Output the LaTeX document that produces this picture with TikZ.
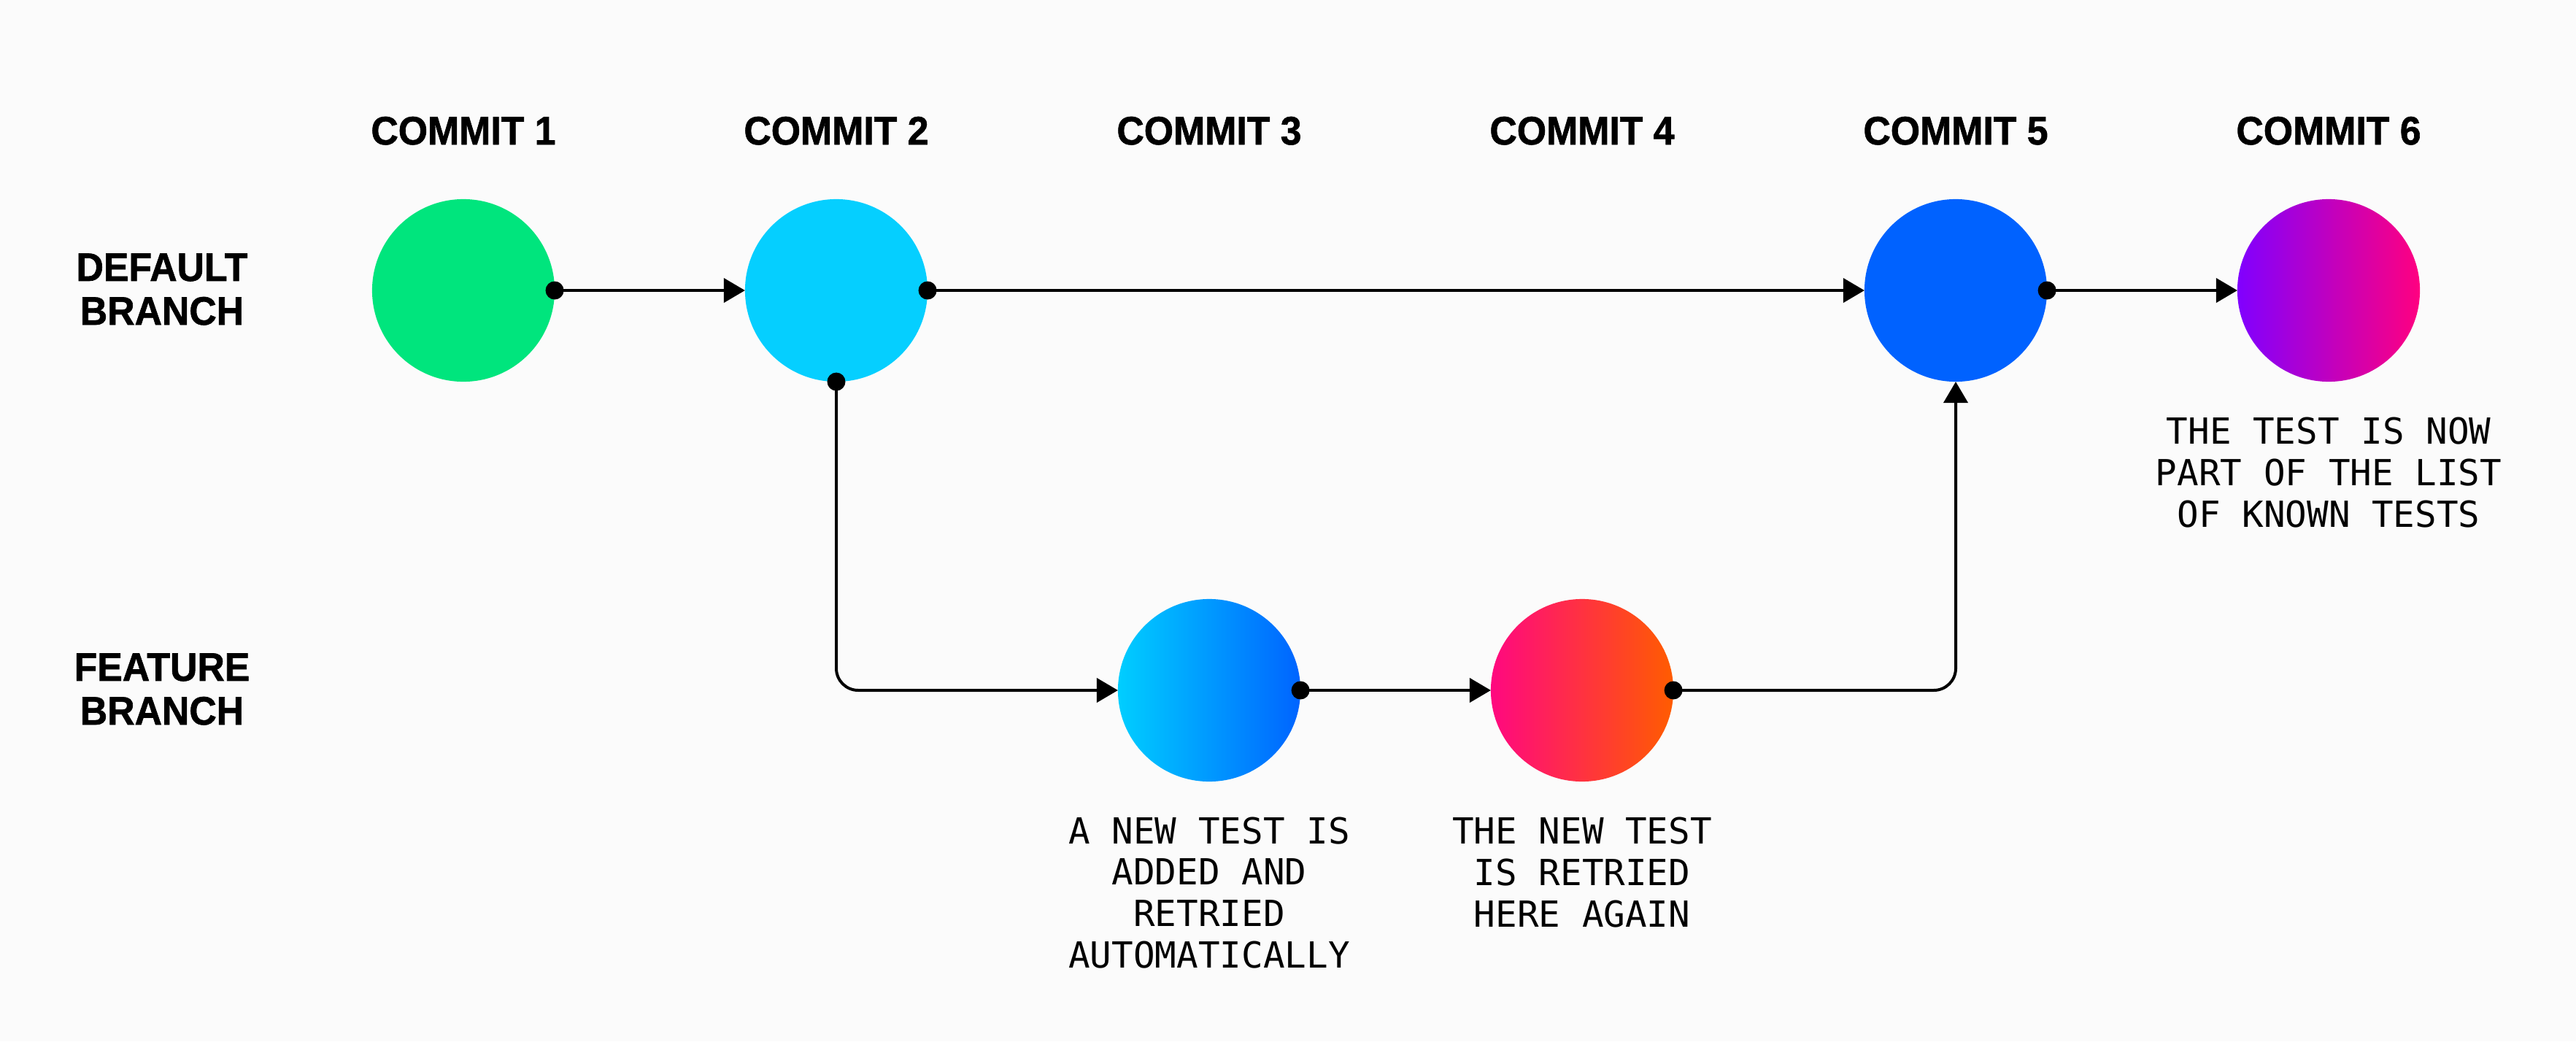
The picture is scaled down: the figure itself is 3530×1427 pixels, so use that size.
\documentclass[tikz,border=0pt]{standalone}
\usepackage{fontspec}
\setmainfont{Liberation Sans}
\newfontfamily\headfont{Liberation Sans}[FakeStretch=0.95,BoldFeatures={FakeBold=1.2}]
\newfontfamily\monofont{DejaVu Sans Mono}
\usetikzlibrary{arrows.meta}
\definecolor{bg}{RGB}{251,251,251}
\definecolor{cA}{RGB}{0,229,125}
\definecolor{cB}{RGB}{5,207,255}
\definecolor{cCl}{RGB}{0,206,255}
\definecolor{cCr}{RGB}{0,100,255}
\definecolor{cDl}{RGB}{255,8,128}
\definecolor{cDr}{RGB}{255,92,0}
\definecolor{cE}{RGB}{0,98,255}
\definecolor{cFl}{RGB}{128,0,255}
\definecolor{cFr}{RGB}{255,0,128}
\begin{document}
\begin{tikzpicture}[x=0.01cm,y=-0.01cm,
  commit/.style={circle,minimum size=2.5cm,inner sep=0pt,outer sep=0pt},
  head/.style={font=\headfont\bfseries\fontsize{15.5}{17.07}\selectfont,align=center,anchor=base,inner sep=0pt},
  note/.style={font=\monofont\fontsize{14}{16.08}\selectfont,align=center,anchor=base,inner sep=0pt},
  conn/.style={line width=0.04cm,-{Triangle[length=0.29cm,width=0.33cm]}},
  dotmark/.style={fill=black}
]
\fill[bg] (0,0) rectangle (3530,1427);
\useasboundingbox (0,0) rectangle (3530,1427);

% commits
\node[commit,fill=cA] (c1) at (635,398) {};
\node[commit,fill=cB] (c2) at (1146,398) {};
\node[commit,left color=cCl,right color=cCr] (c3) at (1657,946) {};
\node[commit,left color=cDl,right color=cDr] (c4) at (2168,946) {};
\node[commit,fill=cE] (c5) at (2680,398) {};
\node[commit,left color=cFl,right color=cFr] (c6) at (3191,398) {};

% headings (anchor = baseline of last line)
\node[head] (h1) at (635,198) {COMMIT 1};
\node[head] (h2) at (1146,198) {COMMIT 2};
\node[head] (h3) at (1657,198) {COMMIT 3};
\node[head] (h4) at (2168,198) {COMMIT 4};
\node[head] (h5) at (2680,198) {COMMIT 5};
\node[head] (h6) at (3191,198) {COMMIT 6};
\node[head] (bd) at (222,445) {DEFAULT\\BRANCH};
\node[head] (bf) at (222,993) {FEATURE\\BRANCH};

% notes (anchor = baseline of last line)
\node[note] (n3) at (1657,1326) {A NEW TEST IS\\ADDED AND\\RETRIED\\AUTOMATICALLY};
\node[note] (n4) at (2168,1270) {THE NEW TEST\\IS RETRIED\\HERE AGAIN};
\node[note] (n6) at (3191,722) {THE TEST IS NOW\\PART OF THE LIST\\OF KNOWN TESTS};

% connectors
\draw[conn] (c1.east) -- (c2.west);
\draw[conn] (c2.east) -- (c5.west);
\draw[conn] (c5.east) -- (c6.west);
\draw[conn,rounded corners=0.3cm] (c2.south) |- (c3.west);
\draw[conn] (c3.east) -- (c4.west);
\draw[conn,rounded corners=0.3cm] (c4.east) -| (c5.south);

% start dots
\fill[dotmark] (c1.east) circle (12.5);
\fill[dotmark] (c2.east) circle (12.5);
\fill[dotmark] (c2.south) circle (12.5);
\fill[dotmark] (c5.east) circle (12.5);
\fill[dotmark] (c3.east) circle (12.5);
\fill[dotmark] (c4.east) circle (12.5);
\end{tikzpicture}
\end{document}
